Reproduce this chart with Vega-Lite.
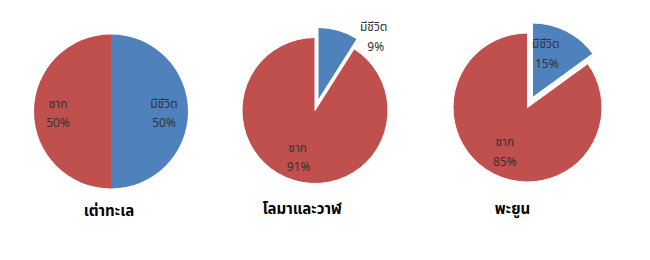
{
  "$schema": "https://vega.github.io/schema/vega-lite/v6.json",
  "background": "white",
  "padding": 5,
  "spacing": 0,
  "config": {
    "view": {"stroke": null},
    "font": "Tahoma, 'Noto Sans Thai', 'Noto Sans', sans-serif",
    "text": {"font": "Tahoma, 'Noto Sans Thai', 'Noto Sans', sans-serif", "fontSize": 12, "fill": "#333333"},
    "title": {"font": "Tahoma, 'Noto Sans Thai', 'Noto Sans', sans-serif", "fontSize": 15, "fontWeight": "bold", "color": "#000000", "orient": "bottom", "anchor": "middle"}
  },
  "hconcat": [
    {
      "width": 212,
      "height": 213,
      "title": {"text": "เต่าทะเล", "offset": -14, "dx": -2},
      "data": {"values": [{"status": "มีชีวิต", "share": 0.5}, {"status": "ซาก", "share": 0.5}]},
      "encoding": {
        "theta": {"field": "share", "type": "quantitative", "stack": true, "scale": {"domain": [0, 1]}},
        "order": {"field": "status", "sort": "descending"}
      },
      "layer": [
        {
          "mark": {"type": "arc", "radius": 77},
          "encoding": {"color": {"field": "status", "type": "nominal", "scale": {"domain": ["มีชีวิต", "ซาก"], "range": ["#4F81BD", "#C0504D"]}, "legend": null}}
        },
        {"mark": {"type": "text", "radius": 53, "dy": -8}, "encoding": {"text": {"field": "status"}}},
        {"mark": {"type": "text", "radius": 53, "dy": 11}, "encoding": {"text": {"field": "share", "format": ".0%"}}}
      ]
    },
    {
      "width": 196,
      "height": 211,
      "title": {"text": "โลมาและวาฬ", "offset": -14, "dx": -13},
      "data": {"values": [{"status": "มีชีวิต", "share": 0.09}, {"status": "ซาก", "share": 0.91}]},
      "transform": [{"stack": "share", "groupby": [], "sort": [{"field": "status", "order": "descending"}], "as": ["s0", "s1"]}],
      "layer": [
        {
          "transform": [{"filter": "datum.status == 'ซาก'"}],
          "mark": {"type": "arc", "radius": 73, "stroke": "white", "strokeWidth": 1, "fill": "#C0504D"},
          "encoding": {"theta": {"field": "s0", "type": "quantitative", "scale": {"domain": [0, 1]}}, "theta2": {"field": "s1"}}
        },
        {
          "transform": [{"filter": "datum.status == 'มีชีวิต'"}],
          "mark": {"type": "arc", "radius": 73, "stroke": "white", "strokeWidth": 1, "fill": "#4F81BD", "xOffset": 3, "yOffset": -10},
          "encoding": {"theta": {"field": "s0", "type": "quantitative", "scale": {"domain": [0, 1]}}, "theta2": {"field": "s1"}}
        },
        {
          "mark": {"type": "text", "radius": 48, "dx": -4, "dy": -9},
          "encoding": {
            "theta": {"field": "share", "type": "quantitative", "stack": true, "scale": {"domain": [0, 1]}},
            "order": {"field": "status", "sort": "descending"},
            "text": {"field": "status"},
            "opacity": {"condition": {"test": "datum.status == 'ซาก'", "value": 1}, "value": 0}
          }
        },
        {
          "mark": {"type": "text", "radius": 48, "dx": -3, "dy": 10},
          "encoding": {
            "theta": {"field": "share", "type": "quantitative", "stack": true, "scale": {"domain": [0, 1]}},
            "order": {"field": "status", "sort": "descending"},
            "text": {"field": "share", "format": ".0%"},
            "opacity": {"condition": {"test": "datum.status == 'ซาก'", "value": 1}, "value": 0}
          }
        },
        {
          "mark": {"type": "text", "radius": 85, "dx": 35, "dy": -2},
          "encoding": {
            "theta": {"field": "share", "type": "quantitative", "stack": true, "scale": {"domain": [0, 1]}},
            "order": {"field": "status", "sort": "descending"},
            "text": {"field": "status"},
            "opacity": {"condition": {"test": "datum.status == 'มีชีวิต'", "value": 1}, "value": 0}
          }
        },
        {
          "mark": {"type": "text", "radius": 85, "dx": 37, "dy": 18},
          "encoding": {
            "theta": {"field": "share", "type": "quantitative", "stack": true, "scale": {"domain": [0, 1]}},
            "order": {"field": "status", "sort": "descending"},
            "text": {"field": "share", "format": ".0%"},
            "opacity": {"condition": {"test": "datum.status == 'มีชีวิต'", "value": 1}, "value": 0}
          }
        }
      ]
    },
    {
      "width": 229,
      "height": 205,
      "title": {"text": "พะยูน", "offset": -8, "dx": -15},
      "data": {"values": [{"status": "มีชีวิต", "share": 0.15}, {"status": "ซาก", "share": 0.85}]},
      "transform": [{"stack": "share", "groupby": [], "sort": [{"field": "status", "order": "descending"}], "as": ["s0", "s1"]}],
      "layer": [
        {
          "transform": [{"filter": "datum.status == 'ซาก'"}],
          "mark": {"type": "arc", "radius": 74.5, "stroke": "white", "strokeWidth": 1, "fill": "#C0504D"},
          "encoding": {"theta": {"field": "s0", "type": "quantitative", "scale": {"domain": [0, 1]}}, "theta2": {"field": "s1"}}
        },
        {
          "transform": [{"filter": "datum.status == 'มีชีวิต'"}],
          "mark": {"type": "arc", "radius": 74.5, "stroke": "white", "strokeWidth": 1, "fill": "#4F81BD", "xOffset": 5, "yOffset": -10},
          "encoding": {"theta": {"field": "s0", "type": "quantitative", "scale": {"domain": [0, 1]}}, "theta2": {"field": "s1"}}
        },
        {
          "mark": {"type": "text", "radius": 50, "dy": -10},
          "encoding": {
            "theta": {"field": "share", "type": "quantitative", "stack": true, "scale": {"domain": [0, 1]}},
            "order": {"field": "status", "sort": "descending"},
            "text": {"field": "status"},
            "opacity": {"condition": {"test": "datum.status == 'ซาก'", "value": 1}, "value": 0}
          }
        },
        {
          "mark": {"type": "text", "radius": 50, "dy": 10},
          "encoding": {
            "theta": {"field": "share", "type": "quantitative", "stack": true, "scale": {"domain": [0, 1]}},
            "order": {"field": "status", "sort": "descending"},
            "text": {"field": "share", "format": ".0%"},
            "opacity": {"condition": {"test": "datum.status == 'ซาก'", "value": 1}, "value": 0}
          }
        },
        {
          "mark": {"type": "text", "radius": 58, "dx": -8, "dy": -12},
          "encoding": {
            "theta": {"field": "share", "type": "quantitative", "stack": true, "scale": {"domain": [0, 1]}},
            "order": {"field": "status", "sort": "descending"},
            "text": {"field": "status"},
            "opacity": {"condition": {"test": "datum.status == 'มีชีวิต'", "value": 1}, "value": 0}
          }
        },
        {
          "mark": {"type": "text", "radius": 58, "dx": -7, "dy": 8},
          "encoding": {
            "theta": {"field": "share", "type": "quantitative", "stack": true, "scale": {"domain": [0, 1]}},
            "order": {"field": "status", "sort": "descending"},
            "text": {"field": "share", "format": ".0%"},
            "opacity": {"condition": {"test": "datum.status == 'มีชีวิต'", "value": 1}, "value": 0}
          }
        }
      ]
    }
  ]
}
